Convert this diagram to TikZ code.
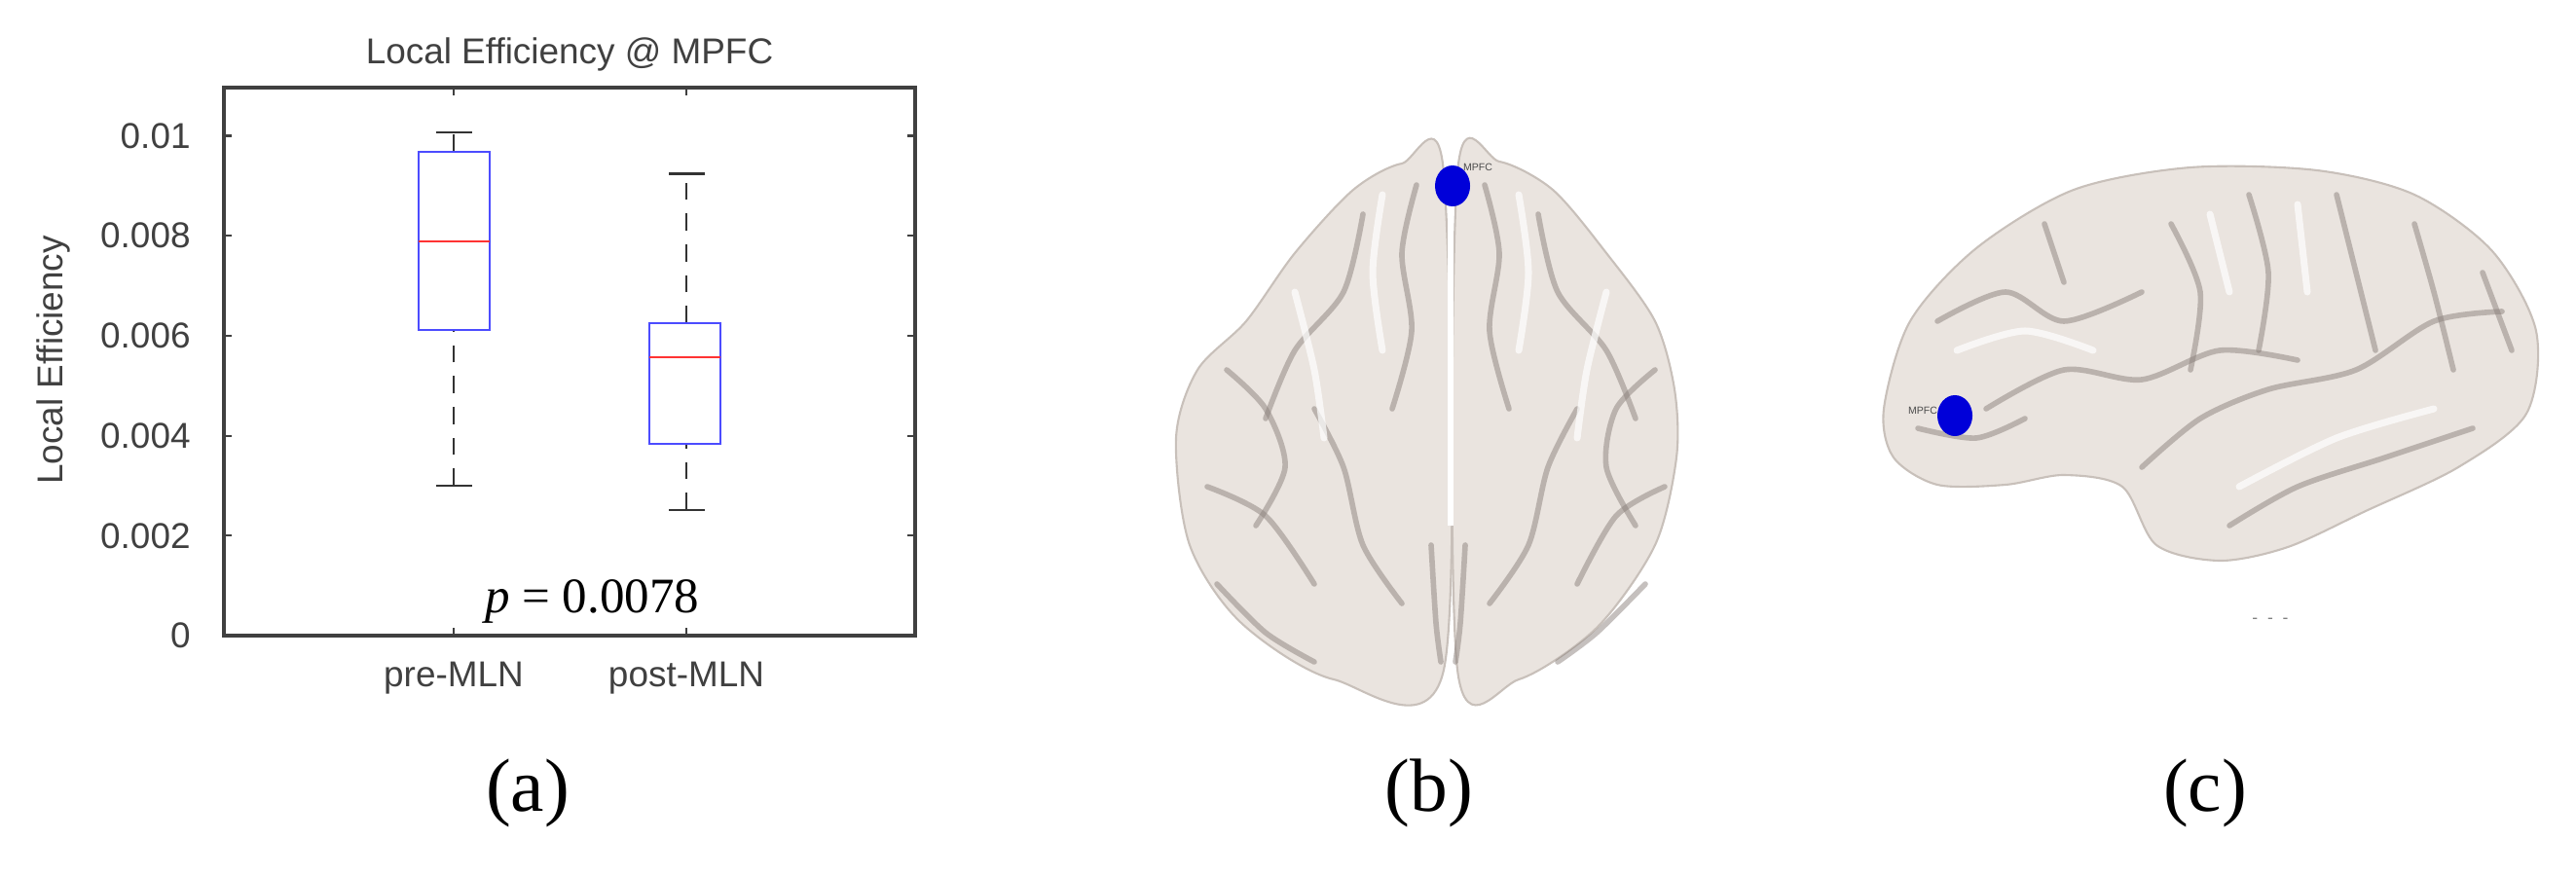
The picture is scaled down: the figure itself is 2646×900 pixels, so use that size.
\documentclass[tikz,border=0pt]{standalone}
\usepackage{fontspec}
\setmainfont{Liberation Serif}
\setsansfont{Liberation Sans}
\usetikzlibrary{shapes.geometric}
\begin{document}
\begin{tikzpicture}[x=0.01cm,y=-0.01cm,
  ax/.style={draw=black!75,line width=0.9pt},
  tk/.style={font=\sffamily\fontsize{10.5}{12}\selectfont,text=black!75},
  bx/.style={draw=blue!70!white,line width=0.8pt},
  med/.style={draw=red!80!white,line width=0.8pt},
  wh/.style={draw=black!80,line width=0.8pt,dash pattern=on 5pt off 4pt},
  whcap/.style={draw=black!80,line width=0.8pt},
  cap2/.style={font=\fontsize{22}{26}\selectfont},
  brain/.style={fill=brainc,draw=brainline,line width=0.6pt},
  sul/.style={draw=sulc,line width=1.6pt,line cap=round,opacity=0.5},
  sulw/.style={draw=white,line width=2pt,line cap=round,opacity=0.7},
  dot/.style={ellipse,fill=blue!85!black,inner sep=0pt,minimum width=0.36cm,minimum height=0.42cm}]
\definecolor{brainc}{RGB}{234,228,223}
\definecolor{brainline}{RGB}{200,192,186}
\definecolor{sulc}{RGB}{140,130,125}
\useasboundingbox (0,0) rectangle (2646,900);
% axes
\draw[ax] (230,90) rectangle (940,653);
\foreach \v/\y in {0/653,0.002/550.3,0.004/447.6,0.006/344.9,0.008/242.2,0.01/139.5}{
  \draw[ax,line width=0.6pt] (230,\y) -- (238,\y);
  \draw[ax,line width=0.6pt] (940,\y) -- (932,\y);
  \node[tk,anchor=east] (t\y) at (208,\y) {\v};}
\foreach \x in {466,705}{\draw[ax,line width=0.6pt] (\x,653) -- (\x,645); \draw[ax,line width=0.6pt] (\x,90) -- (\x,98);}
\node[tk] (title) at (585,56) {Local Efficiency @ MPFC};
\node[tk,rotate=90] (ylab) at (55,370) {Local Efficiency};
\node[tk] (xl1) at (466,697) {pre-MLN};
\node[tk] (xl2) at (705,697) {post-MLN};
% pre box
\draw[wh] (466,499) -- (466,339);
\draw[wh] (466,156) -- (466,136);
\draw[whcap] (448,499) -- (485,499);
\draw[whcap] (448,136) -- (485,136);
\draw[bx] (430,339) rectangle (503,156);
\draw[med] (430,248) -- (503,248);
% post box
\draw[wh] (705,524) -- (705,456);
\draw[wh] (705,332) -- (705,178.5);
\draw[whcap] (687,524) -- (724,524);
\draw[whcap] (687,178.5) -- (724,178.5);
\draw[bx] (667,456) rectangle (740,332);
\draw[med] (667,367) -- (740,367);
\node[font=\fontsize{14.5}{17}\selectfont] (pv) at (608,618) {\textit{p} = 0.0078};
% labels
\node[cap2] (la) at (542,815) {(a)};
\node[cap2] (lb) at (1468,815) {(b)};
\node[cap2] (lc) at (2265,815) {(c)};
% brain b
\draw[brain] plot[smooth cycle] coordinates{(1483,178) (1440,168) (1390,195) (1330,260) (1280,330) (1230,380) (1208,450) (1222,560) (1275,640) (1370,698) (1483,688)};
\draw[brain] plot[smooth cycle] coordinates{(1497,178) (1540,166) (1595,195) (1650,260) (1700,330) (1720,400) (1722,470) (1700,560) (1640,645) (1560,698) (1497,688)};
\foreach \p in {
 {(1455,190) (1440,260) (1450,340) (1430,420)},
 {(1400,220) (1380,300) (1330,360) (1300,430)},
 {(1260,380) (1300,420) (1320,480) (1290,540)},
 {(1350,420) (1380,480) (1400,560) (1440,620)},
 {(1240,500) (1300,530) (1350,600)},
 {(1525,190) (1540,260) (1530,340) (1550,420)},
 {(1580,220) (1600,300) (1650,360) (1680,430)},
 {(1700,380) (1660,420) (1650,480) (1680,540)},
 {(1620,420) (1590,480) (1570,560) (1530,620)},
 {(1710,500) (1660,530) (1620,600)},
 {(1470,560) (1475,640) (1480,680)},
 {(1505,560) (1500,640) (1495,680)},
 {(1250,600) (1300,650) (1350,680)},
 {(1690,600) (1640,650) (1600,680)}}
 {\draw[sul] plot[smooth] coordinates \p;}
\foreach \p in {
 {(1420,200) (1410,280) (1420,360)},
 {(1560,200) (1570,280) (1560,360)},
 {(1330,300) (1350,380) (1360,450)},
 {(1650,300) (1630,380) (1620,450)}}
 {\draw[sulw] plot[smooth] coordinates \p;}
\draw[draw=white,line width=1.5pt] (1490,200) -- (1490,540);
\node[dot] (db) at (1492,191) {};
\node[font=\sffamily\fontsize{3}{3}\selectfont,text=black!70] (mb) at (1518,172) {MPFC};
% brain c
\draw[brain] plot[smooth cycle] coordinates{(1935,420) (1962,330) (2030,255) (2130,195) (2250,172) (2380,175) (2480,200) (2560,258) (2605,340) (2595,425) (2525,480) (2430,525) (2350,562) (2280,576) (2215,560) (2180,500) (2120,488) (2060,498) (1990,498) (1945,470)};
\foreach \p in {
 {(1990,330) (2060,300) (2120,330) (2200,300)},
 {(2040,420) (2120,380) (2200,390) (2280,360) (2360,370)},
 {(2200,480) (2260,430) (2330,400) (2420,380) (2500,330) (2570,320)},
 {(2230,230) (2260,300) (2250,380)},
 {(2310,200) (2330,280) (2320,360)},
 {(2400,200) (2420,280) (2440,360)},
 {(2480,230) (2500,300) (2520,380)},
 {(2290,540) (2360,500) (2450,470) (2540,440)},
 {(2100,230) (2120,290)},
 {(1970,440) (2030,450) (2080,430)},
 {(2550,280) (2580,360)}}
 {\draw[sul] plot[smooth] coordinates \p;}
\foreach \p in {
 {(2010,360) (2080,340) (2150,360)},
 {(2270,220) (2290,300)},
 {(2360,210) (2370,300)},
 {(2300,500) (2400,450) (2500,420)}}
 {\draw[sulw] plot[smooth] coordinates \p;}
\node[dot] (dc) at (2008,427) {};
\node[font=\sffamily\fontsize{3}{3}\selectfont,text=black!70] (mc) at (1975,422) {MPFC};
\node[font=\sffamily\fontsize{5}{5}\selectfont,text=black!50] (dd) at (2332,638) {-\ \ -\ \ -};
\end{tikzpicture}
\end{document}
